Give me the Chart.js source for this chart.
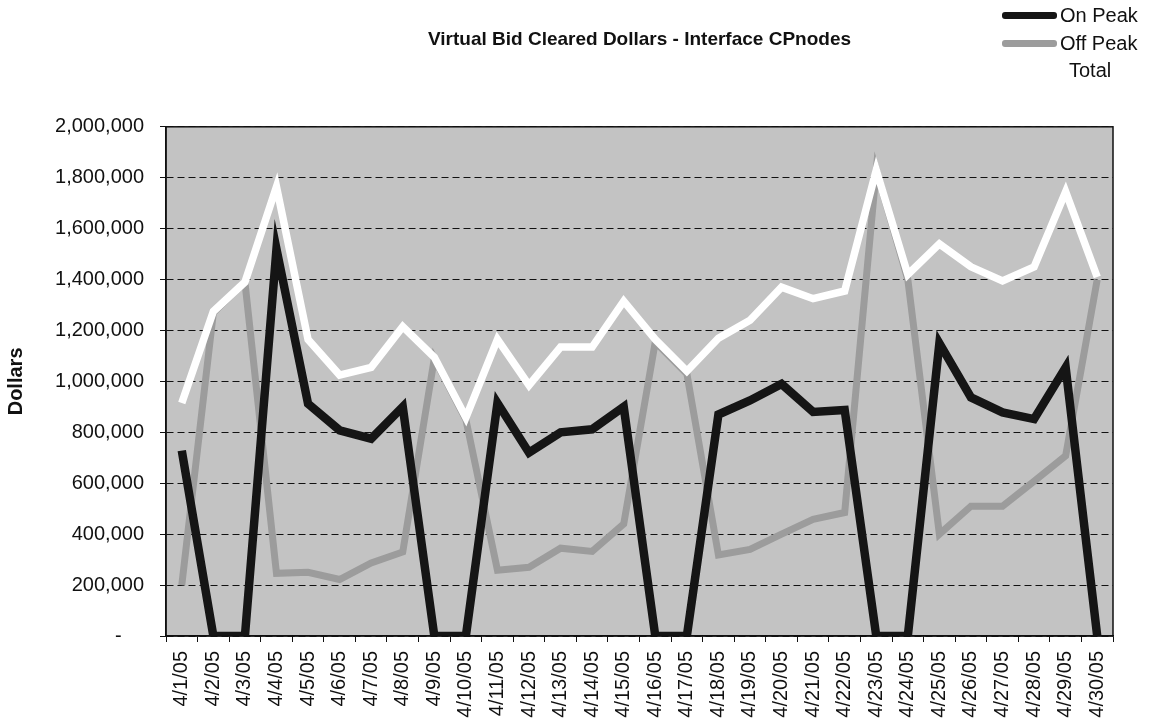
<!DOCTYPE html>
<html>
<head>
<meta charset="utf-8">
<title>Virtual Bid Cleared Dollars - Interface CPnodes</title>
<script src="https://cdn.jsdelivr.net/npm/chart.js@4.4.1/dist/chart.umd.min.js"></script>
<style>
    body { margin: 0; background: #fff; }
    #wrap { position: relative; width: 1150px; height: 719px; }
    #legend { position: absolute; left: 1002px; top: 0; font-family: 'Liberation Sans', Arial, sans-serif; font-size: 20px; color: #111; }
    .leg-item { position: absolute; left: 0; height: 24px; white-space: nowrap; }
    .leg-line { position: absolute; left: 0; top: 9px; width: 55px; height: 7px; border-radius: 3px; }
    .leg-text { position: absolute; left: 58px; top: 0; line-height: 24px; }
</style>
</head>
<body>
<div id="wrap">
    <canvas id="bidChart" width="1150" height="719"></canvas>
    <div id="legend">
        <div class="leg-item" style="top: 3px;"><div class="leg-line" style="background: #151515;"></div><span class="leg-text">On Peak</span></div>
        <div class="leg-item" style="top: 31px;"><div class="leg-line" style="background: #9c9c9c;"></div><span class="leg-text">Off Peak</span></div>
        <div class="leg-item" style="top: 58px;"><div class="leg-line" style="background: #fff;"></div><span class="leg-text" style="left: 67px;">Total</span></div>
    </div>
</div>
<script>
// Days of April 2005
const days = [
    '4/1/05', '4/2/05', '4/3/05', '4/4/05', '4/5/05', '4/6/05', '4/7/05', '4/8/05', '4/9/05', '4/10/05',
    '4/11/05', '4/12/05', '4/13/05', '4/14/05', '4/15/05', '4/16/05', '4/17/05', '4/18/05', '4/19/05', '4/20/05',
    '4/21/05', '4/22/05', '4/23/05', '4/24/05', '4/25/05', '4/26/05', '4/27/05', '4/28/05', '4/29/05', '4/30/05'
];

// Cleared dollars
const onPeak = [
    728000, 0, 0, 1520000, 912000, 808000, 775000, 900000, 0, 0,
    915000, 720000, 800000, 812000, 900000, 0, 0, 870000, 925000, 990000,
    880000, 888000, 0, 0, 1150000, 937000, 878000, 852000, 1055000, 0
];
const offPeak = [
    200000, 1270000, 1390000, 246000, 250000, 222000, 287000, 330000, 1090000, 850000,
    258000, 270000, 345000, 332000, 440000, 1155000, 1030000, 318000, 340000, 400000,
    458000, 485000, 1830000, 1400000, 400000, 510000, 510000, 608000, 708000, 1400000
];
const total = [
    915000, 1275000, 1390000, 1765000, 1165000, 1025000, 1055000, 1215000, 1095000, 858000,
    1165000, 985000, 1135000, 1135000, 1315000, 1165000, 1040000, 1170000, 1240000, 1370000,
    1325000, 1355000, 1830000, 1420000, 1540000, 1450000, 1395000, 1450000, 1745000, 1410000
];

const yMin = 0;
const yMax = 2000000;
const yStep = 200000;

const FONT = "'Liberation Sans', Arial, sans-serif";

// Gray plot area and black frame, like the old spreadsheet chart
const plotFrame = {
    id: 'plotFrame',
    beforeDraw(chart) {
        const { ctx, chartArea: a } = chart;
        ctx.save();
        ctx.fillStyle = '#c3c3c3';
        ctx.fillRect(a.left, a.top, a.right - a.left, a.bottom - a.top);
        ctx.restore();
    },
    afterDatasetsDraw(chart) {
        const { ctx, chartArea: a } = chart;
        ctx.save();
        ctx.strokeStyle = '#111';
        ctx.lineWidth = 1.5;
        ctx.strokeRect(a.left, a.top, a.right - a.left, a.bottom - a.top);
        ctx.restore();
    }
};

const ctx = document.getElementById('bidChart').getContext('2d');

new Chart(ctx, {
    type: 'line',
    data: {
        labels: days,
        datasets: [
            {
                label: 'On Peak',
                data: onPeak,
                borderColor: '#151515',
                borderWidth: 8.5,
                order: 1
            },
            {
                label: 'Off Peak',
                data: offPeak,
                borderColor: '#9c9c9c',
                borderWidth: 7,
                order: 2
            },
            {
                label: 'Total',
                data: total,
                borderColor: '#ffffff',
                borderWidth: 7.5,
                order: 0
            }
        ]
    },
    options: {
        responsive: false,
        animation: false,
        devicePixelRatio: 1,
        layout: {
            padding: { left: 0, right: 37, top: 0, bottom: 0 }
        },
        elements: {
            point: { radius: 0 },
            line: { tension: 0, borderJoinStyle: 'miter', borderCapStyle: 'butt' }
        },
        plugins: {
            legend: { display: false },
            tooltip: { enabled: false },
            title: {
                display: true,
                fullSize: false,
                text: 'Virtual Bid Cleared Dollars - Interface CPnodes',
                color: '#111',
                font: { family: FONT, size: 19, weight: 'bold' },
                padding: { top: 28, bottom: 76 }
            }
        },
        scales: {
            x: {
                offset: true,
                grid: {
                    offset: true,
                    drawOnChartArea: false,
                    drawTicks: true,
                    tickLength: 6,
                    color: '#111'
                },
                border: { display: true, color: '#111', width: 1.5 },
                ticks: {
                    autoSkip: false,
                    maxRotation: 90,
                    minRotation: 90,
                    padding: 9,
                    color: '#111',
                    font: { family: FONT, size: 20 }
                },
                afterFit(scale) {
                    scale.height = 83;
                }
            },
            y: {
                min: yMin,
                max: yMax,
                grid: {
                    color: '#111',
                    lineWidth: 1,
                    tickLength: 6,
                    tickBorderDash: [],
                    borderDash: [7, 4]
                },
                border: { display: true, color: '#111', width: 1.5, dash: [7, 4] },
                ticks: {
                    stepSize: yStep,
                    padding: 16,
                    color: '#111',
                    font: { family: FONT, size: 20 },
                    callback: function (value) {
                        return value === 0 ? '-    ' : value.toLocaleString('en-US');
                    }
                },
                title: {
                    display: true,
                    text: 'Dollars',
                    color: '#111',
                    font: { family: FONT, size: 20, weight: 'bold' },
                    padding: { top: 4, bottom: 4 }
                },
                afterFit(scale) {
                    scale.width = 166;
                }
            }
        }
    },
    plugins: [plotFrame]
});
</script>
</body>
</html>
